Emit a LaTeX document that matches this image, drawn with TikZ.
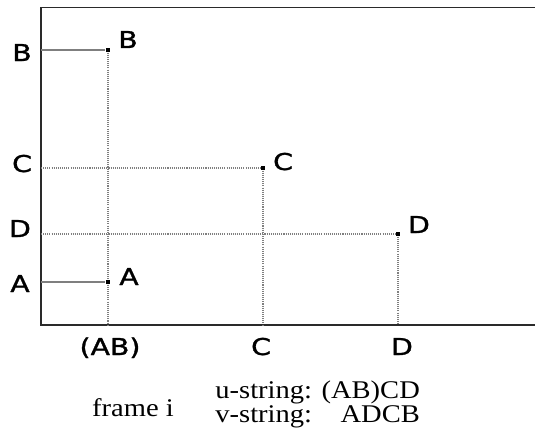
\documentclass[tikz,border=0pt]{standalone}
\usepackage{fontspec}
\setmainfont{Liberation Serif}
\newfontfamily\labfont[FakeBold=1.2]{DejaVu Sans}
\usetikzlibrary{positioning}
\definecolor{guia}{HTML}{7F7F7F}
\definecolor{eje}{HTML}{2A2A2A}
\tikzset{
  ejes/.style={line width=1.1pt, color=eje},
  guia/.style={line width=0.6pt, color=guia},
  guiap/.style={guia, dash pattern=on 0.6pt off 0.6pt},
  punto/.style={rectangle, fill=black, inner sep=0pt, minimum size=2.6pt},
  etiq/.style={font=\labfont\fontsize{13.2}{15}\selectfont, inner sep=0pt, anchor=base,
               xscale=1.22, transform shape},
  texto/.style={font=\fontsize{14.5}{14.2}\selectfont, inner sep=0pt, xscale=1.12, transform shape}
}

\begin{document}
\begin{tikzpicture}[x=0.02cm, y=-0.02cm]
  \useasboundingbox (0,0) rectangle (535,436);
  % marco
  \coordinate (sup) at (535,7.5);
  \coordinate (orig) at (41,325);
  \coordinate (der) at (535,325);
  \draw [ejes] (sup) -| (orig) -- (der);
  % puntos
  \node (pB) [punto] at (108,50) {};
  \node (pC) [punto] at (263,168) {};
  \node (pD) [punto] at (398,234) {};
  \node (pA) [punto] at (108,282) {};
  % pies sobre los ejes
  \coordinate (yB) at (41,50);
  \coordinate (yC) at (41,168);
  \coordinate (yD) at (41,234);
  \coordinate (yA) at (41,282);
  \coordinate (xAB) at (108,325);
  \coordinate (xC) at (263,325);
  \coordinate (xD) at (398,325);
  % lineas guia
  \draw [guia] (yB) -- (pB); \draw [guia] (yA) -- (pA);
  \draw [guiap] (yC) -- (pC); \draw [guiap] (yD) -- (pD);
  \draw [guiap] (pB) -- (pA); \draw [guiap] (pA) -- (xAB);
  \draw [guiap] (pC) -- (xC); \draw [guiap] (pD) -- (xD);
  % etiquetas del eje vertical
  \node (eB) [etiq] at (22,61) {B};
  \node (eC) [etiq] at (22,172) {C};
  \node (eD) [etiq] at (20,237) {D};
  \node (eA) [etiq] at (20,292) {A};
  % etiquetas de los puntos
  \node (nB) [etiq] at (128,48) {B};
  \node (nC) [etiq] at (283,170) {C};
  \node (nD) [etiq] at (419,233) {D};
  \node (nA) [etiq] at (129,285) {A};
  % etiquetas del eje horizontal
  \node (fAB) [etiq] at (110,355) {(AB)};
  \node (fC) [etiq] at (261,355) {C};
  \node (fD) [etiq] at (402,355) {D};
  % leyenda
  \node (cuadro) [texto, anchor=base] at (133,416) {frame i};
  \node (cadenas) [texto, anchor=base west] at (215,398)
    {\begin{tabular}[t]{@{}l@{ }r@{}}u-string: & (AB)CD\\ v-string: & ADCB\end{tabular}};
\end{tikzpicture}
\end{document}
